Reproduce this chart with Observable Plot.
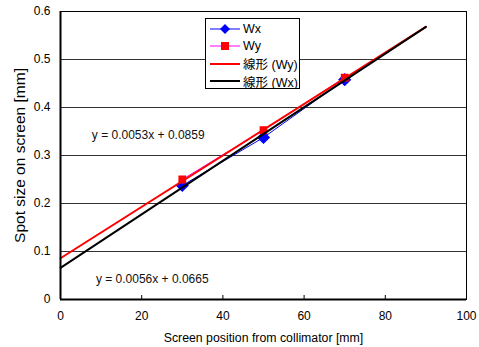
<!DOCTYPE html>
<html><head><meta charset="utf-8">
<script src="https://cdn.jsdelivr.net/npm/d3@7"></script>
<script src="https://cdn.jsdelivr.net/npm/@observablehq/plot@0.6"></script>
<style>
body{margin:0;background:#fff;}
#wrap{position:relative;width:479px;height:347px;}
#legend{position:absolute;left:205px;top:18px;width:95px;height:71px;border:1px solid #000;background:#fff;font-family:"Liberation Sans","Noto Sans CJK JP",sans-serif;font-size:12.5px;box-sizing:border-box;padding-top:1px;white-space:nowrap;overflow:hidden;}
#legend .row{display:flex;align-items:center;height:17.5px;}
#legend svg{margin-left:4px;margin-right:3px;flex:none;}
</style></head>
<body><div id="wrap"><div id="legend"></div></div>
<script>
const positions = [30, 50, 70];
const wx = [0.2375, 0.3375, 0.458];
const wy = [0.250, 0.353, 0.462];
const trendX = [0, 90];
const trendWy = [0.086, 0.568];
const trendWx = [0.066, 0.568];
const xTicks = [0, 20, 40, 60, 80, 100];
const xInnerTicks = [20, 40, 60, 80];
const yTicks = [0, 0.1, 0.2, 0.3, 0.4, 0.5, 0.6];
const yGrid = [0.1, 0.2, 0.3, 0.4, 0.5];
const eqTexts = ["y = 0.0053x + 0.0859", "y = 0.0056x + 0.0665"];
const eqX = [21.6, 22.6];
const eqY = [0.342, 0.042];
const legendLabels = ["Wx", "Wy", "線形 (Wy)", "線形 (Wx)"];

const wxData = positions.map((p, i) => ({x: p, y: wx[i]}));
const wyData = positions.map((p, i) => ({x: p, y: wy[i]}));
const tWy = trendX.map((p, i) => ({x: p, y: trendWy[i]}));
const tWx = trendX.map((p, i) => ({x: p, y: trendWx[i]}));
const eqs = eqTexts.map((t, i) => ({t, x: eqX[i], y: eqY[i]}));

const chart = Plot.plot({
  width: 479, height: 347,
  marginLeft: 60, marginRight: 13, marginTop: 11, marginBottom: 48,
  x: {domain: [0, 100]},
  y: {domain: [0, 0.6]},
  style: {fontFamily: "'Liberation Sans', Arial, sans-serif", fontSize: "12px", color: "#000", background: "#fff"},
  marks: [
    Plot.ruleY(yGrid, {stroke: "#333", strokeWidth: 1}),
    Plot.frame({stroke: "#000"}),
    Plot.axisY({ticks: yTicks, tickSize: 0, tickPadding: 10, tickFormat: d => d === 0 ? "0" : d.toFixed(1), label: null, fontSize: 12}),
    Plot.axisX({ticks: xTicks, tickSize: 0, tickPadding: 12, tickFormat: d => String(d), label: null, fontSize: 12}),
    Plot.axisX({ticks: xInnerTicks, tickSize: 4, dy: -4, tickFormat: () => "", label: null}),
    Plot.line(wxData, {x: "x", y: "y", stroke: "#0000ff", strokeWidth: 1}),
    Plot.dot(wxData, {x: "x", y: "y", symbol: "diamond2", r: 5, fill: "#0000ff", stroke: "#0000ff"}),
    Plot.line(wyData, {x: "x", y: "y", stroke: "#ff00ff", strokeWidth: 1}),
    Plot.dot(wyData, {x: "x", y: "y", symbol: "square2", r: 4, fill: "#ff0000", stroke: "#ff0000"}),
    Plot.line(tWy, {x: "x", y: "y", stroke: "#ff0000", strokeWidth: 2}),
    Plot.line(tWx, {x: "x", y: "y", stroke: "#000", strokeWidth: 2}),
    Plot.ruleX([0], {stroke: "#000", strokeWidth: 2}),
    Plot.ruleY([0], {stroke: "#000", strokeWidth: 2}),
    Plot.text(eqs, {x: "x", y: "y", text: "t", fontSize: 12, fill: "#111"}),
    Plot.text(["Spot size on screen [mm]"], {frameAnchor: "left", dx: -40, rotate: -90, textAnchor: "middle", lineAnchor: "middle", fontSize: 15.5}),
    Plot.text(["Screen position from collimator [mm]"], {frameAnchor: "bottom", dx: 0, dy: 39, textAnchor: "middle", lineAnchor: "middle", fontSize: 12.3})
  ]
});
document.getElementById("wrap").prepend(chart);

const sw = [
  `<line x1="0" y1="8" x2="30" y2="8" stroke="#0000ff" stroke-width="1"/><path d="M15,3L20,8L15,13L10,8Z" fill="#0000ff"/>`,
  `<line x1="0" y1="8" x2="30" y2="8" stroke="#ff00ff" stroke-width="1"/><rect x="11" y="4" width="8" height="8" fill="#ff0000"/>`,
  `<line x1="0" y1="8" x2="30" y2="8" stroke="#ff0000" stroke-width="2"/>`,
  `<line x1="0" y1="8" x2="30" y2="8" stroke="#000" stroke-width="2"/>`
];
const leg = document.getElementById("legend");
legendLabels.forEach((l, i) => {
  const r = document.createElement("div");
  r.className = "row";
  r.innerHTML = `<svg width="30" height="16">${sw[i]}</svg><span>${l}</span>`;
  leg.appendChild(r);
});
</script></body></html>
